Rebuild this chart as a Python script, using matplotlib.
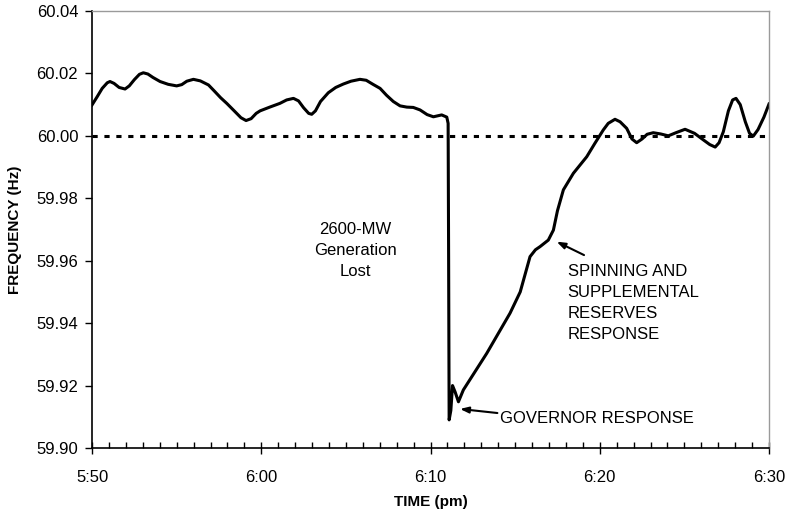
import matplotlib.pyplot as plt
from matplotlib.ticker import MultipleLocator, FixedLocator

plt.rcParams['font.family'] = ['Liberation Sans', 'DejaVu Sans']

# minutes after 5:50 pm and frequency (Hz)
minutes = [0, 0.3, 0.6, 0.9, 1.06, 1.3, 1.6, 1.95, 2.2, 2.5, 2.8, 3.03, 3.3, 3.6, 4.02,
           4.5, 5.0, 5.3, 5.6, 5.99, 6.4, 6.88, 7.2, 7.6, 7.96, 8.4, 8.8, 9.1, 9.4, 9.7,
           9.93, 10.5, 11.1, 11.5, 11.9, 12.2, 12.5, 12.8, 12.98, 13.2, 13.5, 13.96, 14.4,
           14.85, 15.3, 15.83, 16.2, 16.6, 17.02, 17.4, 17.8, 18.2, 18.6, 18.98, 19.38,
           19.8, 20.17, 20.66, 20.96, 21.04, 21.07, 21.1, 21.2, 21.3, 21.45, 21.65, 21.94,
           23.32, 24.7, 25.3, 25.88, 26.2, 26.47, 26.96, 27.26, 27.5, 27.85, 28.44, 29.23,
           29.7, 30.21, 30.5, 30.9, 31.2, 31.59, 31.9, 32.18, 32.5, 32.8, 33.16, 33.6,
           34.05, 34.5, 35.04, 35.6, 36.12, 36.5, 36.82, 37.05, 37.3, 37.6, 37.85, 38.05,
           38.3, 38.6, 38.85, 39.07, 39.35, 39.7, 40.0]
freq = [60.0099, 60.0125, 60.0152, 60.0170, 60.0174, 60.0168, 60.0155, 60.0150, 60.0160,
        60.0180, 60.0197, 60.0202, 60.0198, 60.0187, 60.0174, 60.0165, 60.0160, 60.0164,
        60.0175, 60.0181, 60.0176, 60.0163, 60.0145, 60.0122, 60.0104, 60.0080, 60.0058,
        60.0049, 60.0055, 60.0072, 60.0080, 60.0092, 60.0104, 60.0115, 60.0120, 60.0112,
        60.0090, 60.0072, 60.0069, 60.0080, 60.0110, 60.0138, 60.0155, 60.0166, 60.0175,
        60.0181, 60.0178, 60.0165, 60.0152, 60.0130, 60.0110, 60.0096, 60.0092, 60.0091,
        60.0083, 60.0068, 60.0061, 60.0067, 60.0060, 60.0040, 59.9600, 59.9090, 59.9120,
        59.9200, 59.9180, 59.9148, 59.9186, 59.9303, 59.9432, 59.9500, 59.9613, 59.9635,
        59.9645, 59.9666, 59.9698, 59.9760, 59.9827, 59.9880, 59.9933, 59.9975, 60.0019,
        60.0040, 60.0053, 60.0045, 60.0024, 59.9990, 59.9978, 59.9990, 60.0005, 60.0010,
        60.0006, 60.0000, 60.0010, 60.0021, 60.0008, 59.9987, 59.9972, 59.9964, 59.9978,
        60.0013, 60.0080, 60.0115, 60.0120, 60.0100, 60.0045, 60.0008, 59.9999, 60.0020,
        60.0060, 60.0102]

xtick_pos = [0, 10, 20, 30, 40]
xtick_labels = ['5:50', '6:00', '6:10', '6:20', '6:30']
nominal = 60.00

fig = plt.figure(figsize=(7.88, 5.2), dpi=100)
ax = fig.add_axes([0.1168, 0.1385, 0.8591, 0.8404])

ax.plot(minutes, freq, color='black', lw=2.2, solid_joinstyle='round')
ax.axhline(nominal, color='black', lw=2.2, linestyle=(0, (1.7, 2.2)))

ax.set_xlim(0, 40)
ax.set_ylim(59.90, 60.04)
ax.set_yticks([59.90, 59.92, 59.94, 59.96, 59.98, 60.00, 60.02, 60.04])
ax.set_yticklabels([f'{v:.2f}' for v in ax.get_yticks()])
ax.xaxis.set_major_locator(FixedLocator(xtick_pos))
ax.set_xticklabels(xtick_labels)
ax.xaxis.set_minor_locator(MultipleLocator(1))

ax.tick_params(axis='y', direction='out', length=5, width=1, labelsize=12, pad=5)
ax.tick_params(axis='x', which='major', direction='inout', length=8, width=1,
               labelsize=12, pad=12)
ax.tick_params(axis='x', which='minor', direction='in', length=4, width=1)

for s in ['top', 'right']:
    ax.spines[s].set_color('#9a9a9a')
    ax.spines[s].set_linewidth(1)
for s in ['left', 'bottom']:
    ax.spines[s].set_linewidth(1.2)

ax.set_ylabel('FREQUENCY (Hz)', fontsize=11, fontweight='bold', labelpad=10)
ax.set_xlabel('TIME (pm)', fontsize=11, fontweight='bold', labelpad=7)

ax.text(15.54, 59.9633, '2600-MW\nGeneration\nLost', ha='center', va='center',
        fontsize=12, linespacing=1.5)

ax.annotate('', xy=(21.74, 59.9125), xytext=(23.95, 59.9112),
            arrowprops=dict(arrowstyle='-|>,head_length=0.5,head_width=0.18',
                            color='black', lw=1.5, shrinkA=0, shrinkB=0))
ax.text(24.1, 59.9093, 'GOVERNOR RESPONSE', ha='left', va='center', fontsize=12)

ax.annotate('', xy=(27.45, 59.9661), xytext=(29.07, 59.9618),
            arrowprops=dict(arrowstyle='-|>,head_length=0.5,head_width=0.18',
                            color='black', lw=1.5, shrinkA=0, shrinkB=0))
ax.text(28.1, 59.9466, 'SPINNING AND\nSUPPLEMENTAL\nRESERVES\nRESPONSE',
        ha='left', va='center', fontsize=12, linespacing=1.5)

fig.savefig('out.png', dpi=100)
